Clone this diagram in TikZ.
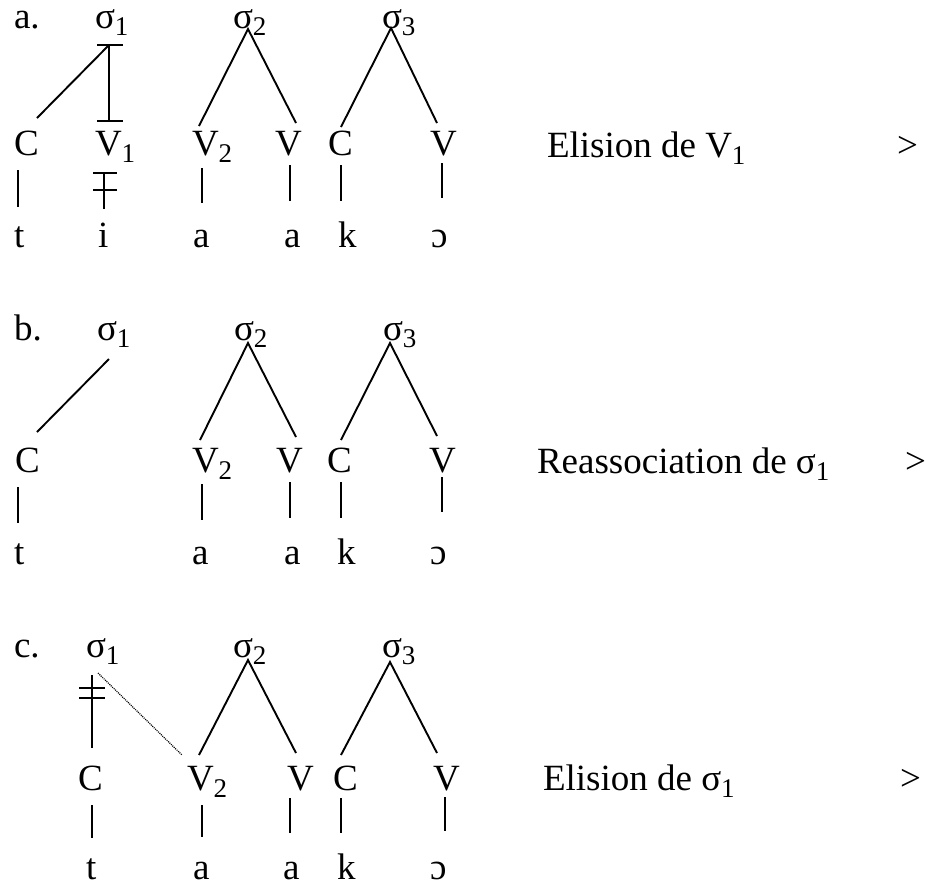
\documentclass[tikz,border=0pt]{standalone}
\usepackage{fontspec}
\setmainfont{Liberation Serif}
\newcommand{\lowsub}[1]{\raisebox{-3.5pt}{\fontsize{13.5}{13.5}\selectfont #1}}
\begin{document}
\begin{tikzpicture}[x=0.5pt,y=-0.5pt,
  txt/.style={anchor=base west,inner sep=0pt,outer sep=0pt,font=\fontsize{18.5}{22}\selectfont},
  ln/.style={line width=0.95pt},
  dl/.style={line width=0.6pt,dash pattern=on 0.5pt off 0.5pt}]
\useasboundingbox (0,0) rectangle (925,885);
% ---------- a ----------
\node[txt] (la) at (14,28) {a.};
\node[txt] (s1a) at (95,28) {σ\lowsub{1}};
\node[txt] (s2a) at (233,28) {σ\lowsub{2}};
\node[txt] (s3a) at (382,28) {σ\lowsub{3}};
\node[txt] (Ca) at (14,155) {C};
\node[txt] (V1a) at (95,155) {V\lowsub{1}};
\node[txt] (V2a) at (192,155) {V\lowsub{2}};
\node[txt] (Va) at (275,155) {V};
\node[txt] (C3a) at (328,155) {C};
\node[txt] (V3a) at (430,155) {V};
\node[txt] (ta) at (14,247) {t};
\node[txt] (ia) at (98,247) {i};
\node[txt] (a1a) at (193,247) {a};
\node[txt] (a2a) at (284,247) {a};
\node[txt] (ka) at (338,247) {k};
\node[txt] (oa) at (431,247) {ɔ};
\node[txt] (ra) at (547,157) {Elision de V\lowsub{1}};
\node[txt] (ga) at (897,157) {>};
\coordinate (a1) at (109,45); \coordinate (a2) at (37,118);
\coordinate (a3) at (109,121);
\coordinate (a4) at (97,45); \coordinate (a5) at (123,45);
\coordinate (a6) at (97,121); \coordinate (a7) at (123,121);
\coordinate (a8) at (248,29); \coordinate (a9) at (199,126); \coordinate (a10) at (296,123);
\coordinate (a11) at (391,28); \coordinate (a12) at (341,127); \coordinate (a13) at (437,123);
\coordinate (a14) at (18,170); \coordinate (a15) at (18,207);
\coordinate (a16) at (104,173); \coordinate (a17) at (104,209);
\coordinate (a18) at (93,173); \coordinate (a19) at (117,173);
\coordinate (a20) at (93,190); \coordinate (a21) at (117,190);
\coordinate (a22) at (202,168); \coordinate (a23) at (202,203);
\coordinate (a24) at (290,165); \coordinate (a25) at (290,201);
\coordinate (a26) at (341,165); \coordinate (a27) at (341,201);
\coordinate (a28) at (442,163); \coordinate (a29) at (442,198);
\draw[ln] (a1) -- (a2);
\draw[ln] (a1) -- (a3);
\draw[ln] (a4) -- (a5);
\draw[ln] (a6) -- (a7);
\draw[ln] (a9) -- (a8) -- (a10);
\draw[ln] (a12) -- (a11) -- (a13);
\draw[ln] (a14) -- (a15);
\draw[ln] (a16) -- (a17);
\draw[ln] (a18) -- (a19);
\draw[ln] (a20) -- (a21);
\draw[ln] (a22) -- (a23);
\draw[ln] (a24) -- (a25);
\draw[ln] (a26) -- (a27);
\draw[ln] (a28) -- (a29);
% ---------- b ----------
\node[txt] (lb) at (14,340) {b.};
\node[txt] (s1b) at (97,340) {σ\lowsub{1}};
\node[txt] (s2b) at (234,340) {σ\lowsub{2}};
\node[txt] (s3b) at (383,340) {σ\lowsub{3}};
\node[txt] (Cb) at (15,472) {C};
\node[txt] (V2b) at (192,472) {V\lowsub{2}};
\node[txt] (Vb) at (276,472) {V};
\node[txt] (C3b) at (327,472) {C};
\node[txt] (V3b) at (429,472) {V};
\node[txt] (tb) at (14,564) {t};
\node[txt] (a1b) at (192,564) {a};
\node[txt] (a2b) at (284,564) {a};
\node[txt] (kb) at (337,564) {k};
\node[txt] (ob) at (430,564) {ɔ};
\node[txt] (rb) at (537,473) {Reassociation de σ\lowsub{1}};
\node[txt] (gb) at (905,473) {>};
\coordinate (b1) at (109,359); \coordinate (b2) at (37,432);
\coordinate (b3) at (248,343); \coordinate (b4) at (200,440); \coordinate (b5) at (296,437);
\coordinate (b6) at (390,343); \coordinate (b7) at (341,440); \coordinate (b8) at (437,436);
\coordinate (b9) at (18,487); \coordinate (b10) at (18,523);
\coordinate (b11) at (202,484); \coordinate (b12) at (202,520);
\coordinate (b13) at (290,482); \coordinate (b14) at (290,518);
\coordinate (b15) at (341,482); \coordinate (b16) at (341,518);
\coordinate (b17) at (442,477); \coordinate (b18) at (442,512);
\draw[ln] (b1) -- (b2);
\draw[ln] (b4) -- (b3) -- (b5);
\draw[ln] (b7) -- (b6) -- (b8);
\draw[ln] (b9) -- (b10);
\draw[ln] (b11) -- (b12);
\draw[ln] (b13) -- (b14);
\draw[ln] (b15) -- (b16);
\draw[ln] (b17) -- (b18);
% ---------- c ----------
\node[txt] (lc) at (14,657) {c.};
\node[txt] (s1c) at (86,657) {σ\lowsub{1}};
\node[txt] (s2c) at (233,657) {σ\lowsub{2}};
\node[txt] (s3c) at (382,657) {σ\lowsub{3}};
\node[txt] (Cc) at (78,790) {C};
\node[txt] (V2c) at (187,790) {V\lowsub{2}};
\node[txt] (Vc) at (287,790) {V};
\node[txt] (C3c) at (333,790) {C};
\node[txt] (V3c) at (433,790) {V};
\node[txt] (tc) at (86,879) {t};
\node[txt] (a1c) at (193,879) {a};
\node[txt] (a2c) at (283,879) {a};
\node[txt] (kc) at (337,879) {k};
\node[txt] (oc) at (430,879) {ɔ};
\node[txt] (rc) at (543,790) {Elision de σ\lowsub{1}};
\node[txt] (gc) at (900,790) {>};
\coordinate (c1) at (92,675); \coordinate (c2) at (92,748);
\coordinate (c3) at (79,688); \coordinate (c4) at (105,688);
\coordinate (c5) at (79,698); \coordinate (c6) at (105,698);
\coordinate (c7) at (98,673); \coordinate (c8) at (182,755);
\coordinate (c9) at (248,660); \coordinate (c10) at (199,755); \coordinate (c11) at (296,753);
\coordinate (c12) at (390,662); \coordinate (c13) at (341,755); \coordinate (c14) at (437,753);
\coordinate (c15) at (92,805); \coordinate (c16) at (92,838);
\coordinate (c17) at (202,805); \coordinate (c18) at (202,837);
\coordinate (c19) at (290,798); \coordinate (c20) at (290,833);
\coordinate (c21) at (341,798); \coordinate (c22) at (341,833);
\coordinate (c23) at (445,797); \coordinate (c24) at (445,831);
\draw[ln] (c1) -- (c2);
\draw[ln] (c3) -- (c4);
\draw[ln] (c5) -- (c6);
\draw[dl] (c7) -- (c8);
\draw[ln] (c10) -- (c9) -- (c11);
\draw[ln] (c13) -- (c12) -- (c14);
\draw[ln] (c15) -- (c16);
\draw[ln] (c17) -- (c18);
\draw[ln] (c19) -- (c20);
\draw[ln] (c21) -- (c22);
\draw[ln] (c23) -- (c24);
\end{tikzpicture}
\end{document}
